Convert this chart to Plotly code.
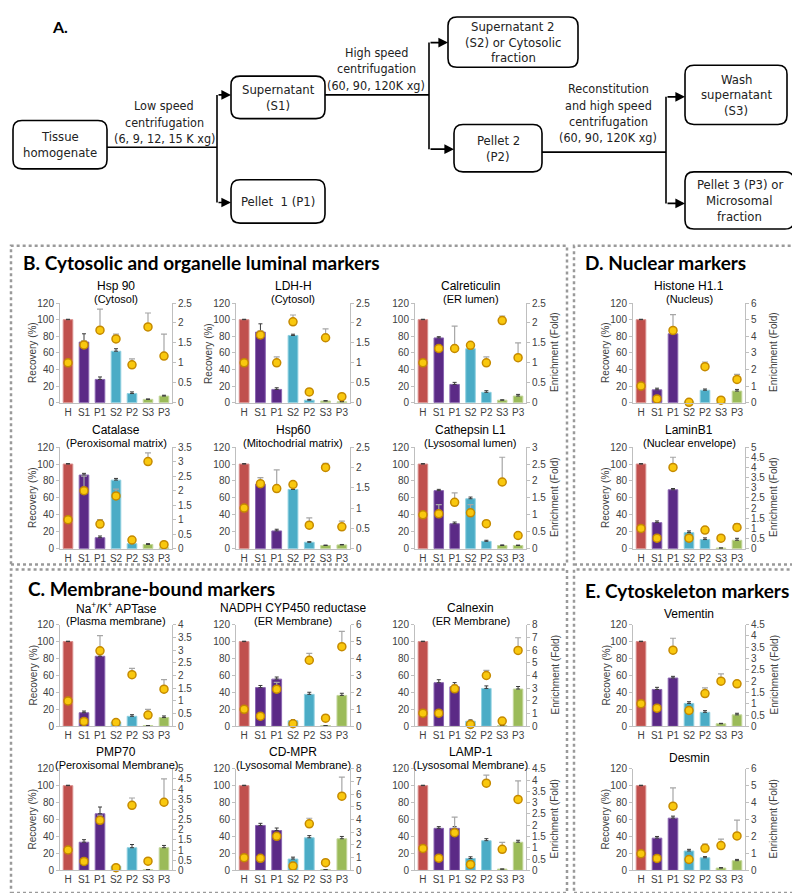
import plotly.graph_objects as go

W, H = 800, 893

fractions = ["H", "S1", "P1", "S2", "P2", "S3", "P3"]

# recovery (%) bars with upper error, enrichment (fold) dots with upper error
hsp90_rec = [100, 73, 28, 62, 11, 4, 8]
hsp90_rec_err = [0.5, 10, 3, 3, 2, 0.5, 1]
hsp90_enr = [1.0, 1.45, 1.82, 1.6, 0.95, 1.9, 1.17]
hsp90_enr_err = [0, 0.1, 0.53, 0.12, 0.15, 0.35, 0.55]

ldh_rec = [100, 85, 16, 81, 3, 2, 1]
ldh_rec_err = [0.5, 10, 2, 1.5, 1, 0.5, 0.5]
ldh_enr = [1.0, 1.7, 1.0, 2.03, 0.27, 1.63, 0.15]
ldh_enr_err = [0, 0.1, 0.15, 0.17, 0, 0.22, 0]

calr_rec = [100, 78, 22, 65, 12.5, 3, 8]
calr_rec_err = [0.5, 1.5, 2.5, 0.5, 2, 0.5, 2]
calr_enr = [1.0, 1.36, 1.36, 1.44, 1.0, 2.06, 1.13]
calr_enr_err = [0, 0, 0.56, 0, 0.15, 0.11, 0.37]

histone_rec = [100, 15.5, 83, 1, 15, 0, 14]
histone_rec_err = [0.5, 2, 2, 0.5, 1.5, 0, 2]
histone_enr = [1.0, 0.23, 4.35, 0.02, 2.17, 0.15, 1.4]
histone_enr_err = [0, 0, 0.95, 0, 0.28, 0, 0.3]

catalase_rec = [100, 87, 13, 81, 6, 5, 1]
catalase_rec_err = [0.5, 2, 2, 2, 0.5, 1, 0.3]
catalase_enr = [1.0, 2.0, 0.85, 1.82, 0.3, 3.0, 0.14]
catalase_enr_err = [0, 0.5, 0.15, 0.23, 0.07, 0.3, 0]

hsp60_rec = [100, 76, 21, 70, 7.6, 3.8, 4.5]
hsp60_rec_err = [0.5, 8, 2, 2, 0.7, 0.5, 0.5]
hsp60_enr = [1.0, 1.6, 1.48, 1.58, 0.58, 2.0, 0.54]
hsp60_enr_err = [0, 0.15, 0.46, 0.06, 0.18, 0.1, 0.14]

cath_rec = [100, 68.6, 29.5, 59, 8.7, 3.8, 3.8]
cath_rec_err = [0.5, 1.5, 2, 2, 1.3, 0.7, 0.5]
cath_enr = [1.0, 1.03, 1.37, 1.06, 0.74, 1.97, 0.39]
cath_enr_err = [0, 0.27, 0.28, 0.24, 0.06, 0.73, 0]

lamin_rec = [100, 30.8, 69.6, 19, 10.8, 0.8, 10]
lamin_rec_err = [0.5, 2, 1.5, 2, 2, 0, 2.3]
lamin_enr = [1.0, 0.52, 4.0, 0.52, 0.92, 0.52, 1.05]
lamin_enr_err = [0, 0, 0.5, 0.16, 0, 0, 0.19]

nak_rec = [100, 16, 82.7, 5, 11.8, 0.8, 10.3]
nak_rec_err = [0.5, 2, 3, 0.8, 1.9, 0, 1.9]
nak_enr = [1.0, 0.19, 2.97, 0.15, 2.03, 0.44, 1.46]
nak_enr_err = [0, 0, 0.6, 0, 0.25, 0.23, 0.38]

nadph_rec = [100, 45.7, 55.7, 6.5, 37.7, 0.8, 36.5]
nadph_rec_err = [0.5, 2.5, 2.5, 1.2, 2.5, 0, 2.5]
nadph_enr = [1.0, 0.6, 2.19, 0.15, 3.9, 0.48, 4.7]
nadph_enr_err = [0, 0, 0.4, 0, 0.4, 0, 0.9]

calnexin_rec = [100, 51.5, 46.6, 6, 44.7, 0.8, 44]
calnexin_rec_err = [0.5, 3.5, 5, 1.6, 3, 0, 3]
calnexin_enr = [1.03, 1.03, 2.95, 0.15, 4.0, 0.41, 5.97]
calnexin_enr_err = [0, 0, 0.3, 0, 0.4, 0, 1.0]

vement_rec = [100, 43.5, 57, 27, 16.5, 3, 13.5]
vement_rec_err = [0.5, 2.5, 2, 2, 2, 0.5, 1.9]
vement_enr = [1.0, 0.8, 3.37, 0.7, 1.45, 2.0, 1.88]
vement_enr_err = [0, 0, 0.53, 0, 0.25, 0.32, 0]

pmp70_rec = [100, 33.2, 66.8, 5, 26.7, 0.8, 26.7]
pmp70_rec_err = [0.5, 3, 8, 0.5, 3.8, 0, 2.7]
pmp70_enr = [1.0, 0.44, 2.46, 0.13, 3.2, 0.45, 3.35]
pmp70_enr_err = [0, 0, 0.25, 0, 0.36, 0, 1.15]

cdmpr_rec = [100, 53, 47, 13.3, 38.4, 0.8, 37.3]
cdmpr_rec_err = [0.5, 2.5, 3, 2.3, 2.6, 0, 2.7]
cdmpr_enr = [1.0, 0.95, 2.68, 0.34, 3.66, 0.6, 5.84]
cdmpr_enr_err = [0, 0, 0.2, 0, 0.44, 0, 1.5]

lamp1_rec = [100, 49.6, 49.6, 14, 35, 1.5, 33.2]
lamp1_rec_err = [0.5, 2, 2, 2, 2.4, 0, 2.3]
lamp1_enr = [0.97, 0.54, 1.67, 0.26, 3.86, 0.93, 3.14]
lamp1_enr_err = [0, 0, 0.69, 0, 0.36, 0.31, 0.82]

desmin_rec = [100, 38, 61.6, 22.8, 14.8, 2.7, 11.4]
desmin_rec_err = [0.5, 2, 2.4, 2, 1.4, 0.5, 1.5]
desmin_enr = [0.98, 0.7, 3.79, 0.64, 1.3, 1.46, 2.03]
desmin_enr_err = [0, 0, 1.08, 0, 0.25, 0.38, 0.94]

# title1, title2, data, enrichment max, dtick, column, row, recovery label, enrichment label
panels = [
    ("Hsp 90", "(Cytosol)", hsp90_rec, hsp90_rec_err, hsp90_enr, hsp90_enr_err, 2.5, 0.5, 0, 0, True, False),
    ("LDH-H", "(Cytosol)", ldh_rec, ldh_rec_err, ldh_enr, ldh_enr_err, 2.5, 0.5, 1, 0, True, False),
    ("Calreticulin", "(ER lumen)", calr_rec, calr_rec_err, calr_enr, calr_enr_err, 2.5, 0.5, 2, 0, False, True),
    ("Histone H1.1", "(Nucleus)", histone_rec, histone_rec_err, histone_enr, histone_enr_err, 6, 1, 3, 0, True, True),
    ("Catalase", "(Peroxisomal matrix)", catalase_rec, catalase_rec_err, catalase_enr, catalase_enr_err, 3.5, 0.5, 0, 1, True, False),
    ("Hsp60", "(Mitochodrial matrix)", hsp60_rec, hsp60_rec_err, hsp60_enr, hsp60_enr_err, 2.5, 0.5, 1, 1, False, False),
    ("Cathepsin L1", "(Lysosomal lumen)", cath_rec, cath_rec_err, cath_enr, cath_enr_err, 3, 0.5, 2, 1, False, True),
    ("LaminB1", "(Nuclear envelope)", lamin_rec, lamin_rec_err, lamin_enr, lamin_enr_err, 5, 0.5, 3, 1, True, True),
    ("Na<sup>+</sup>/K<sup>+</sup> APTase", "(Plasma membrane)", nak_rec, nak_rec_err, nak_enr, nak_enr_err, 4, 0.5, 0, 2, True, False),
    ("NADPH CYP450 reductase", "(ER Membrane)", nadph_rec, nadph_rec_err, nadph_enr, nadph_enr_err, 6, 1, 1, 2, False, False),
    ("Calnexin", "(ER Membrane)", calnexin_rec, calnexin_rec_err, calnexin_enr, calnexin_enr_err, 8, 1, 2, 2, False, True),
    ("Vementin", "", vement_rec, vement_rec_err, vement_enr, vement_enr_err, 4.5, 0.5, 3, 2, True, True),
    ("PMP70", "(Peroxisomal Membrane)", pmp70_rec, pmp70_rec_err, pmp70_enr, pmp70_enr_err, 5, 0.5, 0, 3, True, False),
    ("CD-MPR", "(Lysosomal Membrane)", cdmpr_rec, cdmpr_rec_err, cdmpr_enr, cdmpr_enr_err, 8, 1, 1, 3, False, False),
    ("LAMP-1", "(Lysosomal Membrane)", lamp1_rec, lamp1_rec_err, lamp1_enr, lamp1_enr_err, 4.5, 0.5, 2, 3, False, True),
    ("Desmin", "", desmin_rec, desmin_rec_err, desmin_enr, desmin_enr_err, 6, 1, 3, 3, True, True),
]

col_px = [(52, 164), (228, 342), (407, 518), (625, 737)]
row_px = [(293, 394), (439, 542), (619, 722), (765, 868)]

bar_colors = ["#c0504d", "#5b2a86", "#5b2a86", "#4bacc6", "#4bacc6", "#9bbb59", "#9bbb59"]
bar_edges = ["#d98f8d", "#8a66b0", "#8a66b0", "#8fd0e0", "#8fd0e0", "#c3d69b", "#c3d69b"]
axis_gray = "#bfbfbf"
tick_font = dict(family="Liberation Sans, Arial", size=10, color="#404040")

def fx(x):
    return x / W

def fy(y):
    return 1 - y / H

fig = go.Figure()
layout = {}
ann = []
shapes = []

for i, (t1, t2, rec, rec_err, enr, enr_err, emax, edt, c, r, rlab, elab) in enumerate(panels, start=1):
    l, rr = col_px[c]
    t, b = row_px[r]
    xid = "x" if i == 1 else f"x{i}"
    yid = "y" if i == 1 else f"y{i}"
    y2id = f"y{i + 16}"
    fig.add_trace(go.Bar(
        x=fractions, y=rec, xaxis=xid, yaxis=yid, width=0.6,
        marker=dict(color=bar_colors, line=dict(color=bar_edges, width=1)),
        error_y=dict(type="data", array=rec_err, arrayminus=[0] * 7, symmetric=False,
                     color="#3a3a3a", thickness=1, width=2),
        showlegend=False, hoverinfo="skip"))
    fig.add_trace(go.Scatter(
        x=fractions, y=enr, xaxis=xid, yaxis=y2id, mode="markers", cliponaxis=False,
        marker=dict(size=8, color="#f9c80e", line=dict(color="#c58a00", width=1.5)),
        error_y=dict(type="data", array=enr_err, arrayminus=[0] * 7, symmetric=False,
                     color="#a6a6a6", thickness=1.2, width=3),
        showlegend=False, hoverinfo="skip"))
    xname = "xaxis" if i == 1 else f"xaxis{i}"
    yname = "yaxis" if i == 1 else f"yaxis{i}"
    layout[xname] = dict(domain=[fx(l), fx(rr)], anchor=yid, type="category", range=[-0.5, 6.5],
                         showline=True, linecolor=axis_gray, linewidth=1, ticks="", showgrid=False,
                         tickfont=tick_font, fixedrange=True)
    layout[yname] = dict(domain=[fy(b), fy(t)], anchor=xid, range=[0, 120], dtick=20,
                         showline=True, linecolor=axis_gray, ticks="outside", ticklen=3,
                         tickcolor=axis_gray, showgrid=False, zeroline=False, tickfont=tick_font)
    layout[f"yaxis{i + 16}"] = dict(overlaying=yid, side="right", anchor=xid, range=[0, emax], dtick=edt,
                                    showline=True, linecolor=axis_gray, ticks="outside", ticklen=3,
                                    tickcolor=axis_gray, showgrid=False, zeroline=False, tickfont=tick_font)
    cx = (l + rr) / 2
    if t2:
        ann.append(dict(x=fx(cx), y=fy(t - 17), text=t1, font=dict(size=12)))
        ann.append(dict(x=fx(cx), y=fy(t - 4), text=t2, font=dict(size=11)))
    else:
        ann.append(dict(x=fx(cx), y=fy(t - 11), text=t1, font=dict(size=12)))
    if rlab:
        ann.append(dict(x=fx(l - 27), y=fy((t + b) / 2), text="Recovery (%)", textangle=-90,
                        font=dict(size=10, color="#404040")))
    if elab:
        ann.append(dict(x=fx(rr + 29), y=fy((t + b) / 2), text="Enrichment (Fold)", textangle=-90,
                        font=dict(size=10, color="#404040")))

# panel frames and headings
for x0, y0, x1, y1 in [(3, 235, 559, 558), (566, 235, 797, 558), (3, 563, 559, 891), (566, 563, 797, 891)]:
    shapes.append(dict(type="rect", xref="paper", yref="paper", x0=fx(x0), x1=fx(x1), y0=fy(y1), y1=fy(y0),
                       line=dict(color="#9a9a9a", width=2.5, dash="dot")))
head_font = dict(family="Lato, Liberation Sans", size=19, color="black")
for x, y, txt in [(13, 252, "B. Cytosolic and organelle luminal markers"), (575, 252, "D. Nuclear markers"),
                  (18, 582, "C. Membrane-bound markers"), (575, 584, "E. Cytoskeleton markers")]:
    ann.append(dict(x=fx(x), y=fy(y), text=f"<b>{txt}</b>", xanchor="left", font=head_font))

# flowchart (section A)
flow_family = "DejaVu Sans Condensed, Liberation Sans Narrow, Liberation Sans"
box_font = dict(family=flow_family, size=13, color="#222222")
label_font = dict(family=flow_family, size=12.5, color="#222222")

def rrect(x0, y0, x1, y1, rad=9):
    rx, ry = rad / W, rad / H
    a, b_, c_, d = fx(x0), fx(x1), fy(y0), fy(y1)
    return (f"M {a + rx},{c_} L {b_ - rx},{c_} Q {b_},{c_} {b_},{c_ - ry} L {b_},{d + ry} "
            f"Q {b_},{d} {b_ - rx},{d} L {a + rx},{d} Q {a},{d} {a},{d + ry} L {a},{c_ - ry} "
            f"Q {a},{c_} {a + rx},{c_} Z")

boxes = [
    ((5, 108, 99, 157), ["Tissue", "homogenate"]),
    ((223, 63, 317, 106), ["Supernatant", "(S1)"]),
    ((223, 168, 317, 212), ["Pellet  1 (P1)"]),
    ((440, 3, 570, 54), ["Supernatant 2", "(S2) or Cytosolic", "fraction"]),
    ((446, 112, 534, 160), ["Pellet 2", "(P2)"]),
    ((677, 52, 779, 112), ["Wash", "supernatant", "(S3)"]),
    ((677, 160, 786, 218), ["Pellet 3 (P3) or", "Microsomal", "fraction"]),
]
for (x0, y0, x1, y1), lines in boxes:
    shapes.append(dict(type="path", xref="paper", yref="paper", path=rrect(x0, y0, x1, y1),
                       line=dict(color="black", width=1.6), fillcolor="white"))
    cy = (y0 + y1) / 2
    n = len(lines)
    for k, s in enumerate(lines):
        ann.append(dict(x=fx((x0 + x1) / 2), y=fy(cy + (k - (n - 1) / 2) * 16), text=s, font=box_font))

connectors = [
    (99, 135, 209, 135), (209, 82, 209, 191),
    (317, 82, 421, 82), (421, 29, 421, 137),
    (534, 140, 658, 140), (658, 84, 658, 192),
]
for x0, y0, x1, y1 in connectors:
    shapes.append(dict(type="line", xref="paper", yref="paper", x0=fx(x0), y0=fy(y0), x1=fx(x1), y1=fy(y1),
                       line=dict(color="black", width=1.6)))
for xs, y, xe in [(209, 82, 223), (209, 191, 223), (421, 29, 440), (421, 137, 446), (658, 84, 677), (658, 192, 677)]:
    ann.append(dict(x=fx(xe), y=fy(y), ax=-(xe - xs), ay=0, text="", showarrow=True,
                    arrowhead=2, arrowsize=1.2, arrowwidth=1.6, arrowcolor="black"))

for cx, ys, lines in [
    (156, 93, ["Low speed", "centrifugation", "(6, 9, 12, 15 K xg)"]),
    (368, 39, ["High speed", "centrifugation", "(60, 90, 120K xg)"]),
    (600, 76, ["Reconstitution", "and high speed", "centrifugation", "(60, 90, 120K xg)"]),
]:
    for k, s in enumerate(lines):
        ann.append(dict(x=fx(cx), y=fy(ys + 16.5 * k), text=s, font=label_font))

ann.append(dict(x=fx(42), y=fy(13), text="<b>A.</b>", xanchor="left",
                font=dict(family="Lato, Liberation Sans", size=16, color="black")))

for a in ann:
    a.setdefault("xref", "paper")
    a.setdefault("yref", "paper")
    a.setdefault("showarrow", False)
    a.setdefault("xanchor", "center")
    a.setdefault("yanchor", "middle")
    f = a.setdefault("font", {})
    f.setdefault("family", "Liberation Sans, Arial")
    f.setdefault("color", "black")

fig.update_layout(
    width=W, height=H, margin=dict(l=0, r=0, t=0, b=0),
    paper_bgcolor="white", plot_bgcolor="rgba(0,0,0,0)",
    bargap=0.4, showlegend=False,
    annotations=ann, shapes=shapes,
    **layout,
)

fig.write_html("out.html")
